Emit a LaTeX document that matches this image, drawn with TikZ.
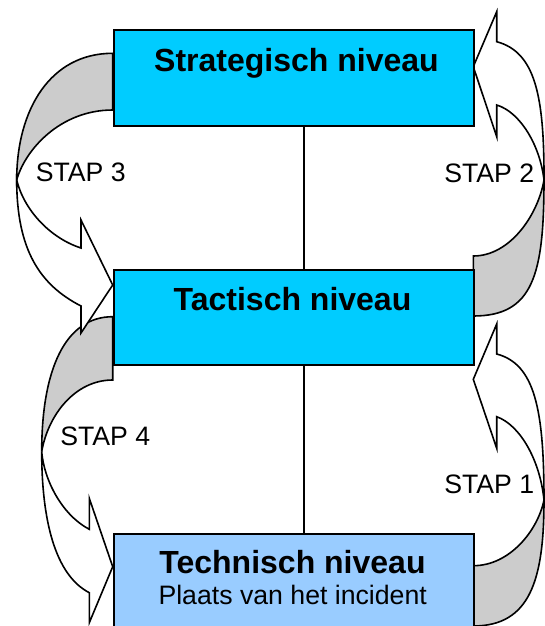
\documentclass[tikz,border=0pt]{standalone}
\usepackage{fontspec}
\setmainfont{Liberation Sans}
\definecolor{niveaublue}{HTML}{00CCFF}
\definecolor{techblue}{HTML}{99CCFF}
\definecolor{backgray}{HTML}{CCCCCC}
\begin{document}
\begin{tikzpicture}[x=0.75pt,y=-0.75pt]
    \tikzstyle{niveaubox} = [rectangle,draw=black,line width=1.4pt,minimum width=270pt,anchor=north west,inner sep=0pt]
    \tikzstyle{niveautext} = [anchor=base,inner sep=0pt,font=\fontsize{24}{28}\selectfont\bfseries]
    \tikzstyle{staptext} = [anchor=base west,inner sep=0pt,font=\fontsize{20}{24}\selectfont]
    \tikzstyle{arrowfront} = [fill=white,draw=black,line width=1.2pt,line join=miter]
    \tikzstyle{arrowback} = [fill=backgray,draw=black,line width=1.2pt]
    \clip (0,0) rectangle (545,626);
    \fill[white] (0,0) rectangle (545,626);
    \begin{scope}
        \draw[arrowback] (544,500) .. controls (544,580) and (530,626) .. (473.3,626) -- (473.3,565.7)
            .. controls (510,565.7) and (538,530) .. (544,500) -- cycle;
        \draw[arrowfront] (544,500) .. controls (540,460) and (520,425) .. (496.7,416.7) -- (496.7,448.3)
            -- (473.3,379.3) -- (496.7,324) -- (496.7,354) .. controls (535,364) and (544,410) .. (544,500) -- cycle;
        \draw[arrowback] (544,180) .. controls (544,275) and (533,316) .. (473.3,316) -- (473.3,256)
            .. controls (510,256) and (538,215) .. (544,180) -- cycle;
        \draw[arrowfront] (544,180) .. controls (540,145) and (520,112) .. (496.7,105) -- (496.7,136.7)
            -- (473.3,66.7) -- (496.7,11.7) -- (496.7,41.7) .. controls (535,52) and (544.3,95) .. (544,180) -- cycle;
    \end{scope}
    \begin{scope}
        \draw[arrowback] (112.7,316.7) .. controls (65,316.7) and (41.7,370) .. (41.7,451.7)
            .. controls (48,415) and (75,380) .. (112.7,380) -- cycle;
        \draw[arrowfront] (41.7,451.7) .. controls (44,480) and (62,515) .. (89.3,529.3) -- (89.3,498.3)
            -- (112.7,566.7) -- (89.3,622.7) -- (89.3,592.7) .. controls (55,575) and (41.7,520) .. (41.7,451.7) -- cycle;
        \draw[arrowback] (112.7,53.3) .. controls (50,53.3) and (16.7,110) .. (16.7,180)
            .. controls (25,150) and (60,110) .. (112.7,110) -- cycle;
        \draw[arrowfront] (16.7,180) .. controls (24,210) and (50,238) .. (81,248) -- (81,220)
            -- (112.7,285) -- (81,333) -- (81,306) .. controls (40,285) and (16.7,250) .. (16.7,180) -- cycle;
    \end{scope}
    \node[niveaubox,fill=niveaublue,minimum height=72pt] (strat) at (112.7,29) {};
    \node[niveaubox,fill=niveaublue,minimum height=71.5pt] (tact) at (112.7,269) {};
    \node[niveaubox,fill=techblue,minimum height=80pt] (tech) at (112.7,533.3) {};
    \coordinate (spine) at (304,0);
    \draw[line width=1.4pt] (strat.south -| spine) -- (tact.north -| spine);
    \draw[line width=1.4pt] (tact.south -| spine) -- (tech.north -| spine);
    \node[niveautext] (strattext) at (296.5,71) {Strategisch niveau};
    \node[niveautext] (tacttext) at (292.5,310) {Tactisch niveau};
    \node[niveautext] (techtext) at (292.5,573.3) {Technisch niveau};
    \node[anchor=base,inner sep=0pt,font=\fontsize{20}{24}\selectfont] (plaats) at (292.7,604) {Plaats van het incident};
    \node[staptext] (stap3) at (35.5,181.5) {STAP 3};
    \node[staptext] (stap2) at (444,182) {STAP 2};
    \node[staptext] (stap4) at (60,445) {STAP 4};
    \node[staptext] (stap1) at (444,493.3) {STAP 1};
\end{tikzpicture}
\end{document}
